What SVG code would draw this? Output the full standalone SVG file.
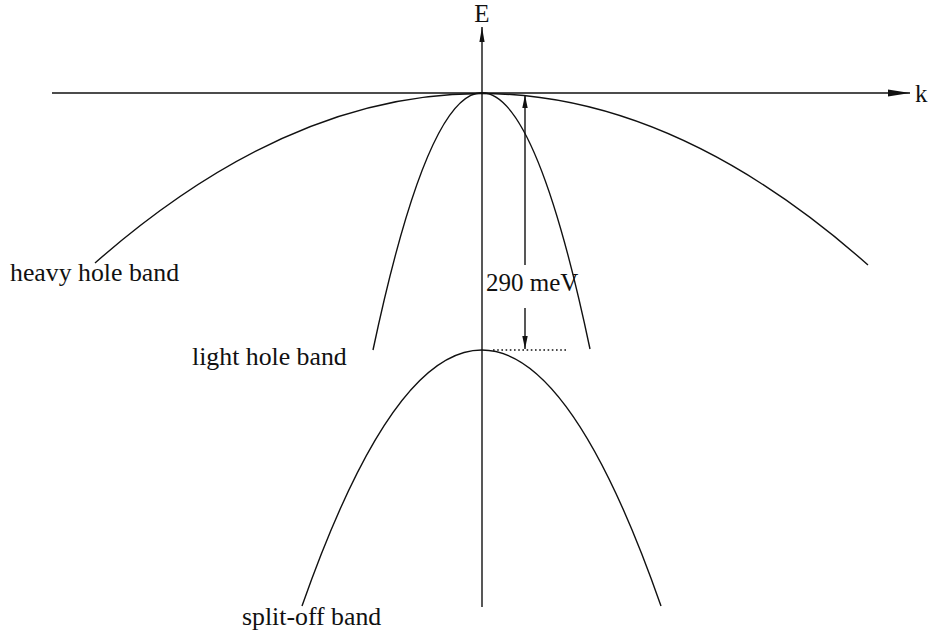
<svg xmlns="http://www.w3.org/2000/svg" width="934" height="635" viewBox="0 0 934 635">
  <style>
    .ln { fill: none; stroke: #111; stroke-width: 1.4; }
    .ax { fill: none; stroke: #111; stroke-width: 1.5; }
    .dot { fill: none; stroke: #111; stroke-width: 1.6; stroke-dasharray: 1.6 2.6; }
    .t { font-family: "Liberation Serif", "Times New Roman", serif; font-size: 25px; fill: #111; }
    .lb { font-size: 25.8px; }
  </style>
  <defs>
    <marker id="axHead" markerUnits="userSpaceOnUse" markerWidth="24" markerHeight="10" viewBox="0 0 24 10" refX="22" refY="5" orient="auto">
      <path d="M0,1.5 L22,5 L0,8.5 Z" fill="#111"/>
    </marker>
    <marker id="vHead" markerUnits="userSpaceOnUse" markerWidth="16" markerHeight="8" viewBox="0 0 16 8" refX="15" refY="4" orient="auto">
      <path d="M0,1.4 L15,4 L0,6.6 Z" fill="#111"/>
    </marker>
    <marker id="dimHead" markerUnits="userSpaceOnUse" markerWidth="14" markerHeight="8" viewBox="0 0 14 8" refX="13" refY="4" orient="auto">
      <path d="M0,1.3 L13,4 L0,6.7 Z" fill="#111"/>
    </marker>
  </defs>

  <g id="axes">
    <line class="ax" x1="52" y1="93" x2="910" y2="93" marker-end="url(#axHead)"/>
    <line class="ln" x1="482" y1="607" x2="482" y2="27" marker-end="url(#vHead)"/>
    <text class="t" x="482" y="22" text-anchor="middle">E</text>
    <text class="t" x="915" y="102">k</text>
  </g>

  <g id="heavy-hole">
    <path class="ln" d="M95,263 Q482,-77 868,265"/>
    <text class="t lb" x="10" y="281">heavy hole band</text>
  </g>

  <g id="light-hole">
    <path class="ln" d="M373,350 Q482,-164 590,349"/>
    <text class="t lb" x="192" y="365">light hole band</text>
  </g>

  <g id="split-off">
    <path class="ln" d="M302,606 Q482,94 661,606"/>
    <text class="t lb" x="242" y="625">split-off band</text>
  </g>

  <g id="gap">
    <line class="dot" x1="493" y1="350" x2="568" y2="350"/>
    <line class="ln" x1="525" y1="265" x2="525" y2="95" marker-end="url(#dimHead)"/>
    <line class="ln" x1="525" y1="308" x2="525" y2="349" marker-end="url(#dimHead)"/>
    <text class="t" x="486" y="291">290 meV</text>
  </g>
</svg>
